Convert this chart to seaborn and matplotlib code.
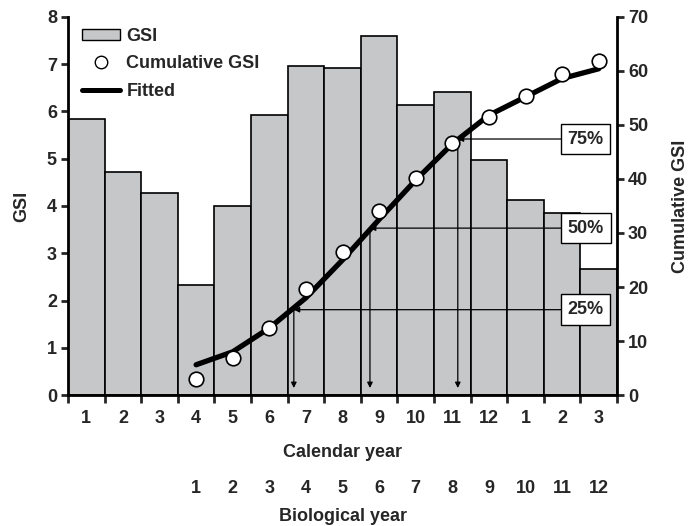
import numpy as np
import pandas as pd
import seaborn as sns
import matplotlib.pyplot as plt
from matplotlib.patches import Patch
from matplotlib.lines import Line2D
import matplotlib.transforms as mtransforms

# monthly GSI, 15 months (Jan of year 1 .. Mar of year 2)
gsi = [5.85, 4.72, 4.28, 2.32, 4.00, 5.92, 6.97, 6.93, 7.60, 6.13, 6.41, 4.97, 4.13, 3.86, 2.67]
calendar_labels = [1, 2, 3, 4, 5, 6, 7, 8, 9, 10, 11, 12, 1, 2, 3]
bio_labels = [1, 2, 3, 4, 5, 6, 7, 8, 9, 10, 11, 12]

# cumulative GSI over the biological year (starts in April)
cum_gsi = [2.9, 6.9, 12.5, 19.6, 26.5, 34.1, 40.2, 46.7, 51.5, 55.4, 59.4, 61.9]
fitted = [5.6, 8.0, 12.4, 18.0, 25.0, 32.5, 39.8, 46.5, 51.8, 55.2, 58.6, 60.4]

# quartile points (x in month positions)
pct_labels = ['25%', '50%', '75%']
pct_x = [5.67, 7.75, 10.15]
pct_y = [15.8, 30.9, 47.4]

sns.set_style('white')
plt.rcParams['font.family'] = ['Liberation Sans', 'DejaVu Sans']
plt.rcParams['font.weight'] = 'bold'
fs = 13

months = list(range(len(gsi)))
bio_pos = months[3:]
df = pd.DataFrame({'month': months, 'gsi': gsi})

fig = plt.figure(figsize=(6.89, 5.26), dpi=100)
ax = fig.add_axes([0.0987, 0.249, 0.7968, 0.7188])

sns.barplot(data=df, x='month', y='gsi', width=1, color='#c6c7c9', saturation=1,
            edgecolor='black', linewidth=1.2, ax=ax)

ax2 = ax.twinx()
sns.lineplot(x=bio_pos, y=fitted, ax=ax2, color='black', linewidth=3.8)
sns.scatterplot(x=bio_pos, y=cum_gsi, ax=ax2, s=110, facecolor='white',
                edgecolor='black', linewidth=1.2, zorder=4)

for lab, px, py in zip(pct_labels, pct_x, pct_y):
    ax2.annotate('', xy=(px, py), xytext=(13.0, py),
                 arrowprops=dict(arrowstyle='-|>', lw=0.9, color='black',
                                 mutation_scale=8, shrinkA=0, shrinkB=0))
    ax2.annotate('', xy=(px, 1.3), xytext=(px, py),
                 arrowprops=dict(arrowstyle='-|>', lw=0.9, color='black',
                                 mutation_scale=8, shrinkA=0, shrinkB=0))
    ax2.text(13.64, py, lab, ha='center', va='center', fontsize=fs, fontweight='bold',
             bbox=dict(boxstyle='square,pad=0.38', facecolor='white', edgecolor='black', linewidth=1))

ax.set_xlim(-0.5, 14.5)
ax.set_ylim(0, 8)
ax2.set_ylim(0, 70)
ax2.set_xlim(-0.5, 14.5)

ax.set_xticks(months)
ax.set_xticklabels(calendar_labels)
ax.set_xticks(np.arange(-0.5, 15, 1), minor=True)
ax.tick_params(axis='x', which='major', length=0, pad=11, labelsize=fs)
ax.tick_params(axis='x', which='minor', length=6, width=2, direction='out', bottom=True)
ax.set_yticks(range(0, 9))
ax.tick_params(axis='y', length=5, width=2, direction='out', left=True, labelsize=fs, pad=3)
ax2.set_yticks(range(0, 71, 10))
ax2.tick_params(axis='y', length=5, width=2, direction='out', right=True, labelsize=fs, pad=3)

ax.set_xlabel('')
ax.set_ylabel('GSI', fontsize=fs, fontweight='bold', labelpad=12)
ax2.set_ylabel('Cumulative GSI', fontsize=fs, fontweight='bold', labelpad=17)

for s in ['top', 'right']:
    ax.spines[s].set_visible(False)
for s in ['top', 'left', 'bottom']:
    ax2.spines[s].set_visible(False)
for a, s in [(ax, 'left'), (ax, 'bottom'), (ax2, 'right')]:
    a.spines[s].set_linewidth(2)
    a.spines[s].set_color('black')

trans = mtransforms.blended_transform_factory(ax.transData, ax.transAxes)
ax.text(7, -0.153, 'Calendar year', transform=trans, ha='center', va='center',
        fontsize=fs, fontweight='bold')
for p, lab in zip(bio_pos, bio_labels):
    ax.text(p, -0.246, str(lab), transform=trans, ha='center', va='center',
            fontsize=fs, fontweight='bold')
ax.text(7, -0.32, 'Biological year', transform=trans, ha='center', va='center',
        fontsize=fs, fontweight='bold')

handles = [Patch(facecolor='#c6c7c9', edgecolor='black', linewidth=1),
           Line2D([], [], marker='o', linestyle='none', markersize=9,
                  markerfacecolor='white', markeredgecolor='black', markeredgewidth=1),
           Line2D([], [], color='black', linewidth=3.6)]
ax2.legend(handles, ['GSI', 'Cumulative GSI', 'Fitted'], loc='upper left',
           bbox_to_anchor=(-0.004, 1.015), frameon=False, handlelength=2.1,
           handleheight=0.55, handletextpad=0.35, labelspacing=0.6,
           prop={'weight': 'bold', 'size': fs})

fig.savefig('out.png', dpi=100)
